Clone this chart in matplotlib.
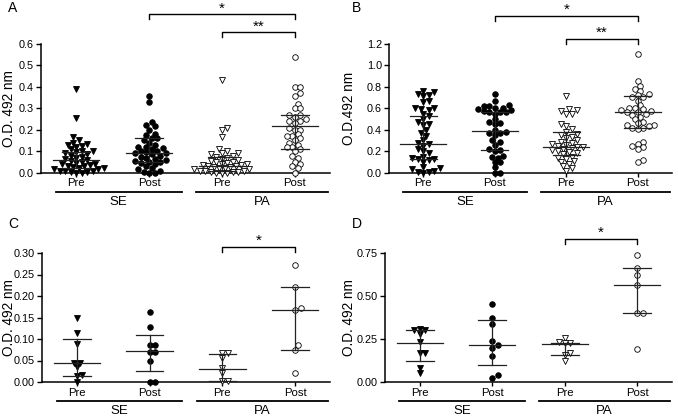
import numpy as np
import matplotlib
matplotlib.use('Agg')
import matplotlib.pyplot as plt
from matplotlib.transforms import blended_transform_factory as btf

plt.rcParams['font.family'] = ['Liberation Sans', 'DejaVu Sans']

tick_labels = ['Pre', 'Post', 'Pre', 'Post']
cohorts = ['SE', 'PA']
ylabels = {'A': 'O.D. 492 nm', 'B': 'O.D.492 nm', 'C': 'O.D. 492 nm', 'D': 'O.D. 492 nm'}

# ---- Panel A ----
a_se_pre = [0.39, 0.255, 0.165, 0.15, 0.14, 0.135, 0.13, 0.125, 0.12, 0.11, 0.10, 0.10,
            0.095, 0.09, 0.085, 0.08, 0.075, 0.07, 0.065, 0.06, 0.055, 0.05, 0.045, 0.04,
            0.04, 0.035, 0.03, 0.03, 0.025, 0.02, 0.02, 0.015, 0.015, 0.01, 0.01, 0.01,
            0.005, 0.005, 0.0, 0.0]
a_se_post = [0.355, 0.33, 0.235, 0.22, 0.215, 0.20, 0.18, 0.175, 0.16, 0.16, 0.15, 0.14,
             0.13, 0.12, 0.12, 0.115, 0.11, 0.10, 0.10, 0.095, 0.09, 0.09, 0.085, 0.08,
             0.075, 0.07, 0.065, 0.06, 0.055, 0.05, 0.05, 0.045, 0.04, 0.03, 0.02, 0.015,
             0.01, 0.005, 0.0, 0.0]
a_pa_pre = [0.43, 0.21, 0.20, 0.165, 0.11, 0.10, 0.09, 0.09, 0.085, 0.08, 0.075, 0.07,
            0.065, 0.06, 0.055, 0.05, 0.05, 0.045, 0.04, 0.04, 0.035, 0.035, 0.03, 0.03,
            0.025, 0.025, 0.02, 0.02, 0.015, 0.015, 0.01, 0.01, 0.01, 0.005, 0.005, 0.005,
            0.0, 0.0, 0.0]
a_pa_post = [0.54, 0.40, 0.40, 0.37, 0.355, 0.32, 0.30, 0.30, 0.27, 0.27, 0.26, 0.25,
             0.24, 0.24, 0.23, 0.21, 0.20, 0.20, 0.18, 0.17, 0.17, 0.16, 0.15, 0.14,
             0.13, 0.12, 0.12, 0.11, 0.10, 0.08, 0.07, 0.05, 0.04, 0.03, 0.02, 0.0]
a_median = [0.06, 0.09, 0.033, 0.215]
a_q1 = [0.02, 0.05, 0.01, 0.11]
a_q3 = [0.098, 0.16, 0.075, 0.27]

# ---- Panel B ----
b_se_pre = [0.76, 0.75, 0.73, 0.72, 0.71, 0.67, 0.66, 0.60, 0.60, 0.59, 0.58, 0.55,
            0.53, 0.50, 0.47, 0.45, 0.44, 0.40, 0.37, 0.34, 0.30, 0.28, 0.27, 0.25,
            0.22, 0.20, 0.18, 0.15, 0.14, 0.13, 0.13, 0.12, 0.10, 0.05, 0.04, 0.03,
            0.02, 0.01, 0.01, 0.0]
b_se_post = [0.73, 0.67, 0.63, 0.62, 0.62, 0.60, 0.60, 0.59, 0.58, 0.57, 0.56, 0.56,
             0.56, 0.55, 0.50, 0.47, 0.46, 0.45, 0.40, 0.38, 0.37, 0.37, 0.35, 0.30,
             0.29, 0.26, 0.22, 0.21, 0.20, 0.16, 0.15, 0.14, 0.10, 0.10, 0.05, 0.0, 0.0]
b_pa_pre = [0.71, 0.59, 0.58, 0.57, 0.55, 0.55, 0.45, 0.43, 0.41, 0.38, 0.36, 0.35,
            0.33, 0.32, 0.30, 0.29, 0.28, 0.27, 0.26, 0.25, 0.24, 0.24, 0.23, 0.22,
            0.21, 0.20, 0.19, 0.18, 0.17, 0.15, 0.14, 0.13, 0.11, 0.10, 0.08, 0.06,
            0.04, 0.02]
b_pa_post = [1.10, 0.85, 0.81, 0.78, 0.76, 0.73, 0.72, 0.70, 0.70, 0.67, 0.63, 0.60,
             0.60, 0.59, 0.58, 0.57, 0.56, 0.56, 0.55, 0.54, 0.52, 0.50, 0.47, 0.46,
             0.44, 0.44, 0.43, 0.42, 0.42, 0.41, 0.29, 0.27, 0.25, 0.24, 0.22, 0.12, 0.10]
b_median = [0.27, 0.385, 0.235, 0.56]
b_q1 = [0.13, 0.21, 0.165, 0.42]
b_q3 = [0.53, 0.56, 0.375, 0.71]

# ---- Panel C ----
c_se_pre = [0.148, 0.115, 0.088, 0.045, 0.045, 0.035, 0.017, 0.015, 0.0]
c_se_post = [0.163, 0.128, 0.086, 0.085, 0.07, 0.07, 0.05, 0.0, 0.0]
c_pa_pre = [0.068, 0.067, 0.055, 0.033, 0.02, 0.003, 0.003]
c_pa_post = [0.272, 0.22, 0.173, 0.167, 0.085, 0.075, 0.021]
c_median = [0.044, 0.071, 0.031, 0.167]
c_q1 = [0.015, 0.025, 0.003, 0.075]
c_q3 = [0.101, 0.109, 0.066, 0.22]

# ---- Panel D ----
d_se_pre = [0.31, 0.30, 0.30, 0.28, 0.23, 0.17, 0.17, 0.08, 0.05]
d_se_post = [0.455, 0.37, 0.335, 0.24, 0.215, 0.195, 0.15, 0.04, 0.025]
d_pa_pre = [0.255, 0.23, 0.225, 0.225, 0.17, 0.155, 0.125]
d_pa_post = [0.74, 0.665, 0.625, 0.565, 0.40, 0.40, 0.19]
d_median = [0.225, 0.215, 0.22, 0.565]
d_q1 = [0.12, 0.10, 0.155, 0.40]
d_q3 = [0.30, 0.36, 0.225, 0.665]

# significance annotations: (from group, to group, label)
a_sig = [(2, 4, '*'), (3, 4, '**')]
b_sig = [(2, 4, '*'), (3, 4, '**')]
c_sig = [(3, 4, '*')]
d_sig = [(3, 4, '*')]

y_ticks = {
    'A': [0.0, 0.1, 0.2, 0.3, 0.4, 0.5, 0.6],
    'B': [0.0, 0.2, 0.4, 0.6, 0.8, 1.0, 1.2],
    'C': [0.00, 0.05, 0.10, 0.15, 0.20, 0.25, 0.30],
    'D': [0.00, 0.25, 0.50, 0.75],
}
tick_fmt = {'A': '%.1f', 'B': '%.1f', 'C': '%.2f', 'D': '%.2f'}

panels = {
    'A': dict(groups=[a_se_pre, a_se_post, a_pa_pre, a_pa_post], med=a_median, q1=a_q1, q3=a_q3, sig=a_sig),
    'B': dict(groups=[b_se_pre, b_se_post, b_pa_pre, b_pa_post], med=b_median, q1=b_q1, q3=b_q3, sig=b_sig),
    'C': dict(groups=[c_se_pre, c_se_post, c_pa_pre, c_pa_post], med=c_median, q1=c_q1, q3=c_q3, sig=c_sig),
    'D': dict(groups=[d_se_pre, d_se_post, d_pa_pre, d_pa_post], med=d_median, q1=d_q1, q3=d_q3, sig=d_sig),
}

# layout (figure fractions) and bracket heights (axes fraction)
W, H = 678, 418
layout = {
    'A': dict(rect=[41 / W, 1 - 172.7 / H, 289 / W, 129 / H], sig_y=[1.23, 1.09], letter=(8, 8), ylab_x=-0.085),
    'B': dict(rect=[389 / W, 1 - 172.7 / H, 283 / W, 129 / H], sig_y=[1.215, 1.04], letter=(352, 8), ylab_x=-0.115),
    'C': dict(rect=[42 / W, 1 - 382 / H, 288 / W, 129 / H], sig_y=[1.05], letter=(8, 224), ylab_x=-0.092),
    'D': dict(rect=[385 / W, 1 - 382 / H, 287 / W, 129 / H], sig_y=[1.11], letter=(352, 224), ylab_x=-0.10),
}

markers = ['v', 'o', 'v', 'o']
filled = [True, True, False, False]
positions = np.array([1, 2, 3, 4])
XLIM = (0.52, 4.48)


def swarm(vals, px_per_y, diam, overlap=0.85):
    vals = np.asarray(vals, float)
    order = np.argsort(vals)
    placed = []
    offs = np.zeros(len(vals))
    cands = [0.0]
    for j in range(1, 40):
        cands += [j * diam * 0.5, -j * diam * 0.5]
    for i in order:
        y = vals[i] * px_per_y
        for c in cands:
            if all((c - px) ** 2 + (y - py) ** 2 >= (diam * overlap) ** 2 for px, py in placed):
                break
        placed.append((c, y))
        offs[i] = c
    return offs


fig = plt.figure(figsize=(W / 100, H / 100), dpi=100)

for key in ['A', 'B', 'C', 'D']:
    p = panels[key]
    lay = layout[key]
    ax = fig.add_axes(lay['rect'])
    ticks = y_ticks[key]
    ymax = ticks[-1]
    ax.set_ylim(0, ymax)
    ax.set_xlim(*XLIM)
    ax_w_px = lay['rect'][2] * W
    ax_h_px = lay['rect'][3] * H
    px_per_x = ax_w_px / (XLIM[1] - XLIM[0])
    px_per_y = ax_h_px / ymax

    for gi, vals in enumerate(p['groups']):
        offs = swarm(vals, px_per_y, 5.5) / px_per_x
        x = positions[gi] + offs
        ax.plot(x, vals, linestyle='none', marker=markers[gi],
                markersize=4.4 if markers[gi] == 'v' else 4.0,
                markerfacecolor='black' if filled[gi] else 'white',
                markeredgecolor='black', markeredgewidth=0.6, clip_on=False, zorder=3)
        # median and IQR
        xc = positions[gi]
        ax.plot([xc - 0.32, xc + 0.32], [p['med'][gi]] * 2, color='#222222', lw=0.9, zorder=4)
        ax.plot([xc, xc], [p['q1'][gi], p['q3'][gi]], color='#222222', lw=0.9, zorder=4)
        for q in (p['q1'][gi], p['q3'][gi]):
            ax.plot([xc - 0.19, xc + 0.19], [q, q], color='#222222', lw=0.9, zorder=4)

    for s in ['top', 'right']:
        ax.spines[s].set_visible(False)
    for s in ['left', 'bottom']:
        ax.spines[s].set_linewidth(1.1)
    ax.set_yticks(ticks)
    ax.set_yticklabels([tick_fmt[key] % t for t in ticks], fontsize=7.8)
    ax.set_xticks(positions)
    ax.set_xticklabels(tick_labels, fontsize=8.2)
    ax.tick_params(axis='y', length=3.5, width=1.0, pad=1.5)
    ax.tick_params(axis='x', length=3, width=1.0, pad=1)
    ax.set_ylabel(ylabels[key], fontsize=9.8)
    ax.yaxis.set_label_coords(lay['ylab_x'], 0.5)

    tr = btf(ax.transData, ax.transAxes)
    # cohort lines and labels
    for (x0, x1), name in zip([(0.72, 2.45), (2.65, 4.45)], cohorts):
        ax.plot([x0, x1], [-0.15, -0.15], color='black', lw=1.3, transform=tr, clip_on=False)
        ax.text((x0 + x1) / 2, -0.225, name, transform=tr, ha='center', va='center', fontsize=9.5)

    # significance brackets
    drop = 0.04
    for (g0, g1, lab), yb in zip(p['sig'], lay['sig_y']):
        ax.plot([g0, g0, g1, g1], [yb - drop, yb, yb, yb - drop], color='black', lw=1.0,
                transform=tr, clip_on=False)
        ax.text((g0 + g1) / 2, yb - 0.01, lab, transform=tr, ha='center', va='bottom', fontsize=11)

    lx, ly = lay['letter']
    fig.text(lx / W, 1 - ly / H, key, ha='left', va='center', fontsize=10)

fig.savefig('out.png', dpi=100)
